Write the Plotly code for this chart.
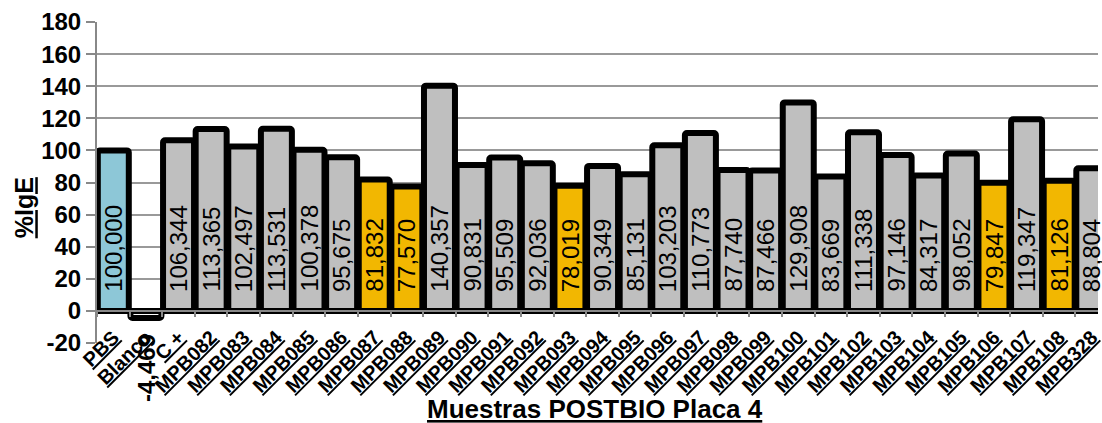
import plotly.graph_objects as go

categories = ["PBS", "Blanco", "C +", "MPB082", "MPB083", "MPB084", "MPB085", "MPB086",
              "MPB087", "MPB088", "MPB089", "MPB090", "MPB091", "MPB092", "MPB093",
              "MPB094", "MPB095", "MPB096", "MPB097", "MPB098", "MPB099", "MPB100",
              "MPB101", "MPB102", "MPB103", "MPB104", "MPB105", "MPB106", "MPB107",
              "MPB108", "MPB328"]
values = [100.000, -4.469, 106.344, 113.365, 102.497, 113.531, 100.378, 95.675,
          81.832, 77.570, 140.357, 90.831, 95.509, 92.036, 78.019,
          90.349, 85.131, 103.203, 110.773, 87.740, 87.466, 129.908,
          83.669, 111.338, 97.146, 84.317, 98.052, 79.847, 119.347,
          81.126, 88.804]
groups = ["control", "blank", "grey", "grey", "grey", "grey", "grey", "grey",
          "hit", "hit", "grey", "grey", "grey", "grey", "hit",
          "grey", "grey", "grey", "grey", "grey", "grey", "grey",
          "grey", "grey", "grey", "grey", "grey", "hit", "grey",
          "hit", "grey"]
y_ticks = [-20, 0, 20, 40, 60, 80, 100, 120, 140, 160, 180]
y_tick_labels = ["-20", "0", "20", "40", "60", "80", "100", "120", "140", "160", "180"]

palette = {"control": "#8DC7D7", "blank": "#FFFFFF", "grey": "#BFBFBF", "hit": "#F2B701"}
colors = [palette[g] for g in groups]
labels = [f"{v:.3f}".replace(".", ",") for v in values]

FONT = "Liberation Sans, Arial, sans-serif"

fig = go.Figure()
fig.add_trace(go.Bar(
    x=categories, y=values,
    marker=dict(color=colors, line=dict(color="#000000", width=6), cornerradius=2),
    hoverinfo="x+y",
))

annotations = []
for c, v, lab in zip(categories, values, labels):
    if v >= 0:
        annotations.append(dict(
            x=c, y=0, xref="x", yref="y", text=lab, showarrow=False,
            textangle=-90, xanchor="center", yanchor="bottom", yshift=17,
            font=dict(family=FONT, size=24, color="#000000"),
        ))
    else:
        annotations.append(dict(
            x=c, y=v, xref="x", yref="y", text=f"<b>{lab}</b>", showarrow=False,
            textangle=-90, xanchor="center", yanchor="top", yshift=-14,
            font=dict(family=FONT, size=24, color="#000000"),
        ))

annotations.append(dict(
    x=(24 - 97) / 1005, y=(343 - 208) / 321, xref="paper", yref="paper",
    text="<b>%IgE</b>", showarrow=False, textangle=-90,
    xanchor="center", yanchor="middle",
    font=dict(family=FONT, size=25, color="#000000", lineposition="under"),
))
annotations.append(dict(
    x=(597 - 97) / 1005, y=(343 - 409) / 321, xref="paper", yref="paper",
    text="<b>Muestras POSTBIO Placa 4</b>", showarrow=False,
    xanchor="center", yanchor="middle",
    font=dict(family=FONT, size=26, color="#000000", lineposition="under"),
))

fig.update_layout(
    width=1102, height=423,
    margin=dict(l=97, r=0, t=22, b=80, pad=0),
    paper_bgcolor="#FFFFFF", plot_bgcolor="#FFFFFF",
    bargap=0.05,
    showlegend=False,
    annotations=annotations,
    xaxis=dict(
        type="category", range=[-0.5, 30.19],
        anchor="free", position=0.1,
        showline=True, linecolor="#888888", linewidth=2,
        ticks="outside", ticklen=5, tickcolor="#888888", tickwidth=1.5,
        tickson="boundaries", tickangle=-45, ticklabelstandoff=6,
        tickfont=dict(family=FONT, size=20, color="#000000",
                      weight="bold", lineposition="under"),
        showgrid=False, zeroline=False,
    ),
    yaxis=dict(
        range=[-20, 180], tickvals=y_ticks, ticktext=y_tick_labels,
        showline=True, linecolor="#888888", linewidth=2,
        ticks="outside", ticklen=9, tickcolor="#888888", tickwidth=1.5,
        showgrid=True, gridcolor="#999999", gridwidth=1.5,
        zeroline=False,
        tickfont=dict(family=FONT, size=24, color="#000000", weight="bold"),
    ),
)

fig.write_html("out.html")
